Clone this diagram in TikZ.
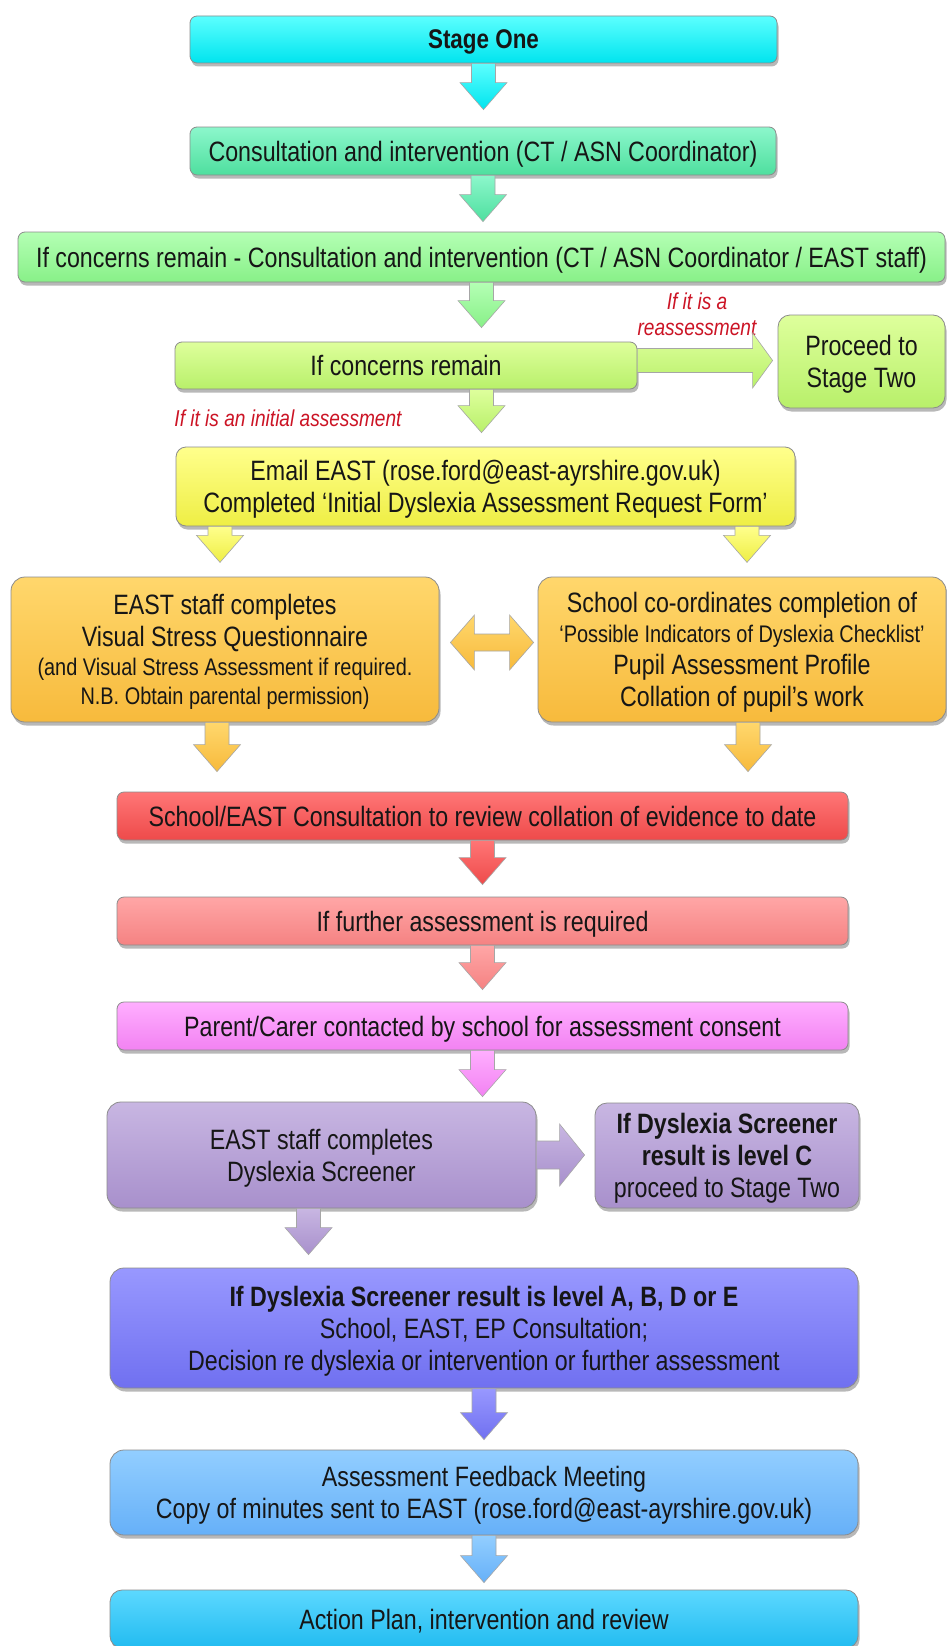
\documentclass[tikz,border=0pt]{standalone}
\usepackage{fontspec}
\setmainfont[FakeStretch=0.83]{Liberation Sans}
\usetikzlibrary{calc,shadows}

% colour pairs: top / bottom of each gradient
\definecolor{txt}{HTML}{161616}
\definecolor{notered}{HTML}{CC1425}
\definecolor{cyT}{HTML}{5CFFFF}\definecolor{cyB}{HTML}{00E4EE}
\definecolor{mnT}{HTML}{8CF7CC}\definecolor{mnB}{HTML}{4EDF9E}
\definecolor{lgT}{HTML}{B4FFB4}\definecolor{lgB}{HTML}{88F088}
\definecolor{ygT}{HTML}{DEFF9C}\definecolor{ygB}{HTML}{B8F06A}
\definecolor{yeT}{HTML}{FFFF8C}\definecolor{yeB}{HTML}{EEEE44}
\definecolor{orT}{HTML}{FFD76C}\definecolor{orB}{HTML}{F7BA3C}
\definecolor{rdT}{HTML}{FF7676}\definecolor{rdB}{HTML}{EE4A4A}
\definecolor{saT}{HTML}{FFA6A6}\definecolor{saB}{HTML}{F58282}
\definecolor{pkT}{HTML}{FFAEFF}\definecolor{pkB}{HTML}{F282F2}
\definecolor{puT}{HTML}{C8B6E2}\definecolor{puB}{HTML}{A890CC}
\definecolor{blT}{HTML}{9898FF}\definecolor{blB}{HTML}{7070F0}
\definecolor{lbT}{HTML}{92CEFF}\definecolor{lbB}{HTML}{66B0F8}
\definecolor{acT}{HTML}{5CD8FF}\definecolor{acB}{HTML}{22BBF0}

\tikzset{
  box/.style={rectangle, rounded corners=7pt, draw=black!45, line width=0.8pt,
    inner sep=0pt, align=center, text=txt, text depth=0pt, font=\fontsize{28}{32}\selectfont,
    drop shadow={shadow xshift=1.5pt, shadow yshift=-3.5pt, opacity=0.28, fill=black}},
  bigbox/.style={box, rounded corners=14pt},
  arrowbody/.style={draw=black!35, line width=0.6pt},
  note/.style={text=notered, font=\itshape\fontsize{23}{26}\selectfont, align=center, inner sep=0pt}
}

% downward block arrow: start, tip, top colour, bottom colour
\newcommand{\dnarrow}[4]{%
  \shade[arrowbody, top color=#3, bottom color=#4] let \p1=(#1), \p2=(#2) in
    (\x1-12pt,\y1) -- (\x1+12pt,\y1) -- (\x1+12pt,\y2+27pt) -- (\x1+23.5pt,\y2+27pt)
    -- (\x1,\y2) -- (\x1-23.5pt,\y2+27pt) -- (\x1-12pt,\y2+27pt) -- cycle;}

% rightward block arrow: start, tip, shaft half height, head half height, head length, colours
\newcommand{\rtarrow}[7]{%
  \shade[arrowbody, top color=#6, bottom color=#7] let \p1=(#1), \p2=(#2) in
    (\x1,\y1+#3) -- (\x2-#5,\y1+#3) -- (\x2-#5,\y1+#4) -- (\x2,\y1)
    -- (\x2-#5,\y1-#4) -- (\x2-#5,\y1-#3) -- (\x1,\y1-#3) -- cycle;}

\begin{document}
\begin{tikzpicture}[x=1pt,y=-1pt]
\fill[white] (0,0) rectangle (947,1646);
\useasboundingbox (0,0) rectangle (947,1646);

% ---- boxes ----
\node[box, minimum width=587pt, minimum height=47pt, top color=cyT, bottom color=cyB,
      font=\bfseries\fontsize{27}{32}\selectfont] (stage) at (483.5,39.5) {Stage One};
\node[box, minimum width=586pt, minimum height=48pt, top color=mnT, bottom color=mnB]
      (consult) at (483,151) {Consultation and intervention (CT / ASN Coordinator)};
\node[box, minimum width=927pt, minimum height=50pt, top color=lgT, bottom color=lgB]
      (concerns1) at (481.5,257) {If concerns remain - Consultation and intervention (CT / ASN Coordinator / EAST staff)};
\node[box, minimum width=462pt, minimum height=47pt, top color=ygT, bottom color=ygB]
      (concerns2) at (406,365.5) {If concerns remain};
\node[bigbox, rounded corners=12pt, minimum width=167pt, minimum height=93pt, top color=ygT, bottom color=ygB]
      (proceed) at (861.5,361.5) {Proceed to\\Stage Two};
\node[bigbox, rounded corners=10pt, minimum width=619pt, minimum height=79pt, top color=yeT, bottom color=yeB]
      (email) at (485.5,486.5) {Email EAST (rose.ford@east-ayrshire.gov.uk)\\Completed `Initial Dyslexia Assessment Request Form'};
\node[bigbox, minimum width=428pt, minimum height=145pt, top color=orT, bottom color=orB]
      (visual) at (225,649.5) {EAST staff completes\\Visual Stress Questionnaire\\[-3pt]
      {\fontsize{24}{28}\selectfont (and Visual Stress Assessment if required.}\\[-3pt]
      {\fontsize{24}{28}\selectfont N.B. Obtain parental permission)}};
\node[bigbox, minimum width=408pt, minimum height=145pt, top color=orT, bottom color=orB]
      (school) at (742,649.5) {School co-ordinates completion of\\[-2pt]
      {\fontsize{24}{28}\selectfont `Possible Indicators of Dyslexia Checklist'}\\
      Pupil Assessment Profile\\Collation of pupil's work};
\node[box, minimum width=731pt, minimum height=48pt, top color=rdT, bottom color=rdB]
      (review) at (482.5,816) {School/EAST Consultation to review collation of evidence to date};
\node[box, minimum width=731pt, minimum height=48pt, top color=saT, bottom color=saB]
      (further) at (482.5,921) {If further assessment is required};
\node[box, minimum width=731pt, minimum height=48pt, top color=pkT, bottom color=pkB]
      (consent) at (482.5,1026) {Parent/Carer contacted by school for assessment consent};
\node[bigbox, minimum width=429pt, minimum height=106pt, top color=puT, bottom color=puB]
      (screener) at (321.5,1155) {EAST staff completes\\Dyslexia Screener};
\node[bigbox, rounded corners=12pt, minimum width=264pt, minimum height=105pt, top color=puT, bottom color=puB]
      (levelc) at (727,1155.5) {\textbf{If Dyslexia Screener}\\\textbf{result is level C}\\proceed to Stage Two};
\node[bigbox, minimum width=748pt, minimum height=120pt, top color=blT, bottom color=blB]
      (decision) at (484,1328) {\textbf{If Dyslexia Screener result is level A, B, D or E}\\School, EAST, EP Consultation;\\Decision re dyslexia or intervention or further assessment};
\node[bigbox, minimum width=748pt, minimum height=85pt, top color=lbT, bottom color=lbB]
      (feedback) at (484,1492.5) {Assessment Feedback Meeting\\Copy of minutes sent to EAST (rose.ford@east-ayrshire.gov.uk)};
\node[bigbox, rounded corners=12pt, minimum width=748pt, minimum height=58pt, top color=acT, bottom color=acB]
      (action) at (484,1619) {Action Plan, intervention and review};

% ---- notes ----
\node[note] (lblre) at (697,314) {If it is a\\reassessment};
\node[note] (lblinit) at (288,418) {If it is an initial assessment};

% ---- connectors ----
\dnarrow{stage.south}{$(consult.north)+(0pt,17pt)$}{cyT}{cyB}
\dnarrow{consult.south}{$(concerns1.north)+(0pt,10pt)$}{mnT}{mnB}
\dnarrow{concerns1.south}{$(concerns1.south |- concerns2.north)+(0pt,14pt)$}{lgT}{lgB}
\dnarrow{$(concerns2.south -| concerns1.south)$}{$(concerns1.south |- email.north)+(0pt,14pt)$}{ygT}{ygB}
\rtarrow{$(concerns2.east)+(0pt,5pt)$}{$(proceed.west)+(-5pt,0pt)$}{12pt}{27.5pt}{20pt}{ygT}{ygB}

\dnarrow{$(email.south)+(-265.5pt,0pt)$}{$(email.south -| visual.north)+(-5pt,-36pt)$}{yeT}{yeB}
\dnarrow{$(email.south)+(261.5pt,0pt)$}{$(email.south -| school.north)+(5pt,-36pt)$}{yeT}{yeB}

% two-headed arrow between the orange boxes
\shade[arrowbody, top color=orT, bottom color=orB] let \p1=($(visual.east)+(11pt,7pt)$), \p2=($(school.west)+(-4pt,7pt)$) in
  (\x1,\y1) -- (\x1+24pt,\y1+27.5pt) -- (\x1+24pt,\y1+8.5pt) -- (\x2-24pt,\y1+8.5pt)
  -- (\x2-24pt,\y1+27.5pt) -- (\x2,\y1) -- (\x2-24pt,\y1-27.5pt) -- (\x2-24pt,\y1-8.5pt)
  -- (\x1+24pt,\y1-8.5pt) -- (\x1+24pt,\y1-27.5pt) -- cycle;

\dnarrow{$(visual.south)+(-8pt,0pt)$}{$(visual.south |- review.north)+(-8pt,20pt)$}{orT}{orB}
\dnarrow{$(school.south)+(6pt,0pt)$}{$(school.south |- review.north)+(6pt,20pt)$}{orT}{orB}

\dnarrow{review.south}{$(further.north)+(0pt,12pt)$}{rdT}{rdB}
\dnarrow{further.south}{$(consent.north)+(0pt,12pt)$}{saT}{saB}
\dnarrow{consent.south}{$(consent.south |- screener.north)+(0pt,5pt)$}{pkT}{pkB}

\rtarrow{screener.east}{$(levelc.west)+(-10pt,0pt)$}{14pt}{31pt}{25pt}{puT}{puB}
\dnarrow{$(screener.south)+(-13pt,0pt)$}{$(screener.south |- decision.north)+(-13pt,13pt)$}{puT}{puB}

\dnarrow{decision.south}{$(feedback.north)+(0pt,10pt)$}{blT}{blB}
\dnarrow{feedback.south}{$(action.north)+(0pt,7pt)$}{lbT}{lbB}
\end{tikzpicture}
\end{document}
